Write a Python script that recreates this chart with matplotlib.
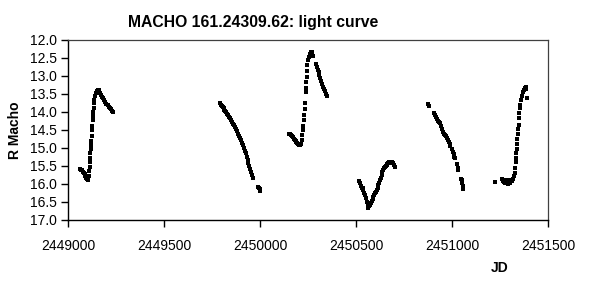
import matplotlib
matplotlib.use("Agg")
import matplotlib.pyplot as plt

plt.rcParams['font.family'] = ['Liberation Sans', 'DejaVu Sans']

# ---- data ----
seg1_jd = [2449061, 2449066, 2449071, 2449076, 2449081, 2449086, 2449090, 2449094, 2449098,
           2449102, 2449105, 2449108, 2449110, 2449112, 2449114, 2449115, 2449117, 2449118,
           2449120, 2449121, 2449123, 2449125, 2449127, 2449128, 2449130, 2449131, 2449133,
           2449135, 2449138, 2449142, 2449147, 2449152, 2449157, 2449161, 2449166, 2449171,
           2449176, 2449182, 2449188, 2449194, 2449200, 2449206, 2449212, 2449218, 2449224,
           2449230, 2449235]
seg1_mag = [15.58, 15.60, 15.61, 15.66, 15.70, 15.73, 15.78, 15.82, 15.86,
            15.89, 15.86, 15.78, 15.64, 15.52, 15.40, 15.28, 15.15, 15.02,
            14.92, 14.80, 14.66, 14.50, 14.38, 14.22, 14.10, 14.00, 13.88,
            13.76, 13.66, 13.55, 13.47, 13.42, 13.39, 13.40, 13.46, 13.52,
            13.57, 13.62, 13.68, 13.73, 13.77, 13.81, 13.85, 13.89, 13.93,
            13.97, 14.00]

seg2_jd = [2449790, 2449795, 2449800, 2449805, 2449810, 2449815, 2449820, 2449825, 2449830,
           2449835, 2449840, 2449845, 2449850, 2449855, 2449860, 2449865, 2449870, 2449875,
           2449880, 2449885, 2449890, 2449895, 2449900, 2449905, 2449910, 2449915, 2449920,
           2449925, 2449930, 2449935, 2449940, 2449945, 2449950, 2449955, 2449960, 2449965,
           2449990, 2449994, 2449998, 2450002]
seg2_mag = [13.76, 13.80, 13.83, 13.87, 13.90, 13.94, 13.97, 14.01, 14.05,
            14.09, 14.14, 14.18, 14.23, 14.27, 14.32, 14.36, 14.41, 14.47,
            14.54, 14.60, 14.67, 14.73, 14.79, 14.86, 14.92, 14.99, 15.07,
            15.15, 15.24, 15.32, 15.41, 15.49, 15.58, 15.67, 15.75, 15.84,
            16.07, 16.12, 16.15, 16.19]

seg3_jd = [2450150, 2450155, 2450160, 2450165, 2450170, 2450175, 2450180, 2450185, 2450190,
           2450195, 2450200, 2450205, 2450210, 2450214, 2450218, 2450221, 2450224, 2450226,
           2450228, 2450230, 2450232, 2450234, 2450237, 2450239, 2450241, 2450243, 2450245,
           2450247, 2450250, 2450255, 2450260, 2450265, 2450269, 2450273, 2450278, 2450293,
           2450297, 2450301, 2450305, 2450309, 2450313, 2450318, 2450322, 2450327, 2450332,
           2450337, 2450342, 2450347]
seg3_mag = [14.60, 14.62, 14.65, 14.68, 14.70, 14.74, 14.78, 14.80, 14.83,
            14.86, 14.88, 14.92, 14.93, 14.88, 14.78, 14.65, 14.50, 14.38,
            14.22, 14.08, 13.92, 13.76, 13.45, 13.34, 13.18, 13.02, 12.86,
            12.69, 12.56, 12.47, 12.40, 12.34, 12.32, 12.36, 12.45, 12.66,
            12.74, 12.82, 12.90, 12.98, 13.06, 13.14, 13.22, 13.30, 13.37,
            13.43, 13.49, 13.55]

seg4_jd = [2450518, 2450521, 2450526, 2450530, 2450534, 2450538, 2450543, 2450547, 2450551,
           2450555, 2450560, 2450564, 2450569, 2450573, 2450577, 2450582, 2450586, 2450590,
           2450595, 2450599, 2450604, 2450608, 2450612, 2450616, 2450621, 2450625, 2450630,
           2450634, 2450638, 2450642, 2450647, 2450651, 2450656, 2450660, 2450664, 2450668,
           2450673, 2450677, 2450682, 2450686, 2450690, 2450694, 2450699, 2450703]
seg4_mag = [15.92, 15.98, 16.05, 16.12, 16.10, 16.18, 16.26, 16.31, 16.40,
            16.50, 16.58, 16.66, 16.62, 16.58, 16.54, 16.48, 16.42, 16.35,
            16.30, 16.26, 16.21, 16.16, 16.10, 16.03, 15.96, 15.89, 15.82,
            15.75, 15.68, 15.61, 15.56, 15.52, 15.49, 15.46, 15.44, 15.42,
            15.40, 15.38, 15.38, 15.39, 15.41, 15.43, 15.47, 15.52]

seg5_jd = [2450876, 2450880, 2450905, 2450911, 2450915, 2450920, 2450925, 2450930, 2450937,
           2450942, 2450947, 2450952, 2450957, 2450962, 2450967, 2450972, 2450977, 2450982,
           2450987, 2450992, 2450998, 2451003, 2451008, 2451012, 2451016, 2451025, 2451030,
           2451033, 2451047, 2451050, 2451053, 2451056, 2451059]
seg5_mag = [13.79, 13.82, 14.02, 14.08, 14.14, 14.20, 14.24, 14.27, 14.31,
            14.40, 14.48, 14.55, 14.60, 14.63, 14.67, 14.72, 14.78, 14.84,
            14.89, 14.95, 15.03, 15.10, 15.18, 15.24, 15.29, 15.45, 15.55,
            15.61, 15.85, 15.89, 15.97, 16.05, 16.15]

seg6_jd = [2451224, 2451262, 2451266, 2451270, 2451274, 2451278, 2451282, 2451286, 2451290,
           2451294, 2451298, 2451302, 2451306, 2451310, 2451314, 2451318, 2451322, 2451326,
           2451329, 2451331, 2451333, 2451335, 2451337, 2451339, 2451341, 2451343, 2451345,
           2451347, 2451349, 2451351, 2451353, 2451356, 2451360, 2451365, 2451370, 2451375,
           2451380, 2451385, 2451388, 2451390]
seg6_mag = [15.94, 15.85, 15.92, 15.95, 15.88, 15.97, 15.90, 15.96, 15.99,
            15.94, 15.90, 15.97, 15.93, 15.88, 15.93, 15.85, 15.78, 15.70,
            15.55, 15.40, 15.28, 15.15, 15.02, 14.90, 14.75, 14.62, 14.48,
            14.35, 14.18, 14.04, 13.90, 13.80, 13.68, 13.55, 13.45, 13.38,
            13.33, 13.31, 13.36, 13.62]

jd = seg1_jd + seg2_jd + seg3_jd + seg4_jd + seg5_jd + seg6_jd
mag = seg1_mag + seg2_mag + seg3_mag + seg4_mag + seg5_mag + seg6_mag

x_ticks = [2449000, 2449500, 2450000, 2450500, 2451000, 2451500]
y_ticks = [12.0, 12.5, 13.0, 13.5, 14.0, 14.5, 15.0, 15.5, 16.0, 16.5, 17.0]

title = "MACHO 161.24309.62: light curve"

# ---- figure ----
fig = plt.figure(figsize=(5.89, 2.93), dpi=100)
ax = fig.add_axes([68/589, 1-220/293, (548-68)/589, (220-40)/293])

ax.plot(jd, mag, linestyle='none', marker='s', markersize=2.5, color='black',
        markeredgewidth=0)

ax.set_xlim(x_ticks[0], x_ticks[-1])
ax.set_ylim(y_ticks[-1], y_ticks[0])
ax.set_xticks(x_ticks)
ax.set_xticklabels([str(t) for t in x_ticks])
ax.set_yticks(y_ticks)
ax.set_yticklabels([f"{t:.1f}" for t in y_ticks])

ax.tick_params(axis='both', direction='out', length=5, width=1, labelsize=10,
               colors='black')
ax.tick_params(axis='y', pad=3)
ax.tick_params(axis='x', pad=9)

for s in ['left', 'bottom']:
    ax.spines[s].set_color('black')
    ax.spines[s].set_linewidth(1.0)
for s in ['top', 'right']:
    ax.spines[s].set_color('#404040')
    ax.spines[s].set_linewidth(0.9)

fig.text(253/589, 1-22/293, title, ha='center', va='center', fontsize=11.3,
         fontweight='bold')
fig.text(500/589, 1-268/293, "JD", ha='center', va='center', fontsize=10,
         fontweight='bold')
fig.text(15/589, 1-130/293, "R Macho", ha='center', va='center', fontsize=10,
         fontweight='bold', rotation=90)

fig.savefig("out.png", dpi=100)
